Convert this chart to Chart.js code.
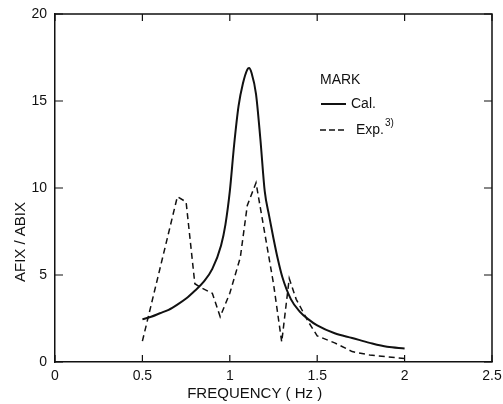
<!DOCTYPE html>
<html><head><meta charset="utf-8">
<script src="https://cdn.jsdelivr.net/npm/chart.js@4/dist/chart.umd.min.js"></script>
<style>html,body{margin:0;padding:0;background:#fff}#wrap{width:503px;height:404px}</style>
</head><body><div id="wrap"><canvas id="c" width="503" height="404"></canvas></div>
<script>
const calFreq   = [0.5, 0.55, 0.6, 0.65, 0.7, 0.75, 0.8, 0.85, 0.9, 0.95, 0.975, 1.0, 1.025, 1.05, 1.075, 1.1, 1.11, 1.125, 1.15, 1.175, 1.2, 1.225, 1.25, 1.275, 1.3, 1.35, 1.4, 1.45, 1.5, 1.6, 1.7, 1.8, 1.9, 2.0];
const calValues = [2.45, 2.6, 2.8, 3.0, 3.3, 3.65, 4.1, 4.6, 5.35, 6.7, 7.9, 9.8, 12.5, 14.7, 16.0, 16.8, 16.9, 16.6, 15.4, 12.8, 9.8, 8.4, 7.1, 5.9, 4.9, 3.6, 2.9, 2.45, 2.1, 1.65, 1.38, 1.1, 0.87, 0.78];
const expFreq   = [0.5, 0.7, 0.75, 0.8, 0.83, 0.9, 0.945, 1.0, 1.06, 1.1, 1.15, 1.25, 1.297, 1.34, 1.38, 1.45, 1.5, 1.6, 1.7, 1.8, 1.9, 2.0];
const expValues = [1.2, 9.5, 9.2, 4.5, 4.3, 3.95, 2.6, 3.95, 6.0, 9.0, 10.3, 4.5, 1.15, 4.8, 3.6, 2.3, 1.5, 1.1, 0.6, 0.4, 0.3, 0.2];
const xTicks = [0, 0.5, 1, 1.5, 2, 2.5];
const yTicks = [0, 5, 10, 15, 20];
const xTitle = 'FREQUENCY ( Hz )';
const yTitle = 'AFIX / ABIX';
const legendTitle = 'MARK';
const seriesLabels = ['Cal.', 'Exp.'];
const expSup = '3)';

const FONT = '"Liberation Sans", Arial, sans-serif';
const INK = '#111';

const overlay = {
  id: 'overlay',
  afterDraw(chart) {
    const ctx = chart.ctx, a = chart.chartArea;
    const xs = chart.scales.x, ys = chart.scales.y;
    ctx.save();
    ctx.strokeStyle = INK; ctx.fillStyle = INK;
    ctx.lineWidth = 1.5; ctx.setLineDash([]);
    // top and right frame
    ctx.beginPath();
    ctx.moveTo(a.left, a.top); ctx.lineTo(a.right, a.top); ctx.lineTo(a.right, a.bottom);
    ctx.stroke();
    // inward ticks
    ctx.lineWidth = 1.2;
    ctx.beginPath();
    yTicks.forEach(v => {
      const p = ys.getPixelForValue(v);
      ctx.moveTo(a.left, p); ctx.lineTo(a.left + 8, p);
      ctx.moveTo(a.right, p); ctx.lineTo(a.right - 8, p);
    });
    xTicks.forEach(v => {
      const p = xs.getPixelForValue(v);
      ctx.moveTo(p, a.bottom); ctx.lineTo(p, a.bottom - 7);
      ctx.moveTo(p, a.top); ctx.lineTo(p, a.top + 7);
    });
    ctx.stroke();
    // axis titles
    ctx.font = '15px ' + FONT;
    ctx.textAlign = 'center'; ctx.textBaseline = 'alphabetic';
    ctx.fillText(xTitle, a.left + (a.right - a.left) * 0.457, 398);
    ctx.save();
    ctx.translate(25, (a.top + a.bottom) / 2 + 54);
    ctx.rotate(-Math.PI / 2);
    ctx.fillText(yTitle, 0, 0);
    ctx.restore();
    // legend
    ctx.textAlign = 'left';
    ctx.font = '14px ' + FONT;
    ctx.fillText(legendTitle, 320, 84);
    ctx.lineWidth = 2;
    ctx.beginPath(); ctx.moveTo(321, 104); ctx.lineTo(346, 104); ctx.stroke();
    ctx.fillText(seriesLabels[0], 351, 108);
    ctx.lineWidth = 1.5; ctx.setLineDash([6, 3]);
    ctx.beginPath(); ctx.moveTo(320, 130); ctx.lineTo(346, 130); ctx.stroke();
    ctx.setLineDash([]);
    ctx.fillText(seriesLabels[1], 356, 134);
    const w = ctx.measureText(seriesLabels[1]).width;
    ctx.font = '10px ' + FONT;
    ctx.fillText(expSup, 356 + w + 1, 126);
    ctx.restore();
  }
};

new Chart(document.getElementById('c'), {
  type: 'line',
  data: {
    datasets: [
      {
        label: seriesLabels[0],
        data: calFreq.map((f, i) => ({ x: f, y: calValues[i] })),
        borderColor: INK, borderWidth: 2, pointRadius: 0, fill: false,
        cubicInterpolationMode: 'monotone'
      },
      {
        label: seriesLabels[1],
        data: expFreq.map((f, i) => ({ x: f, y: expValues[i] })),
        borderColor: INK, borderWidth: 1.5, borderDash: [6, 4], pointRadius: 0, fill: false,
        tension: 0
      }
    ]
  },
  options: {
    responsive: false, animation: false, devicePixelRatio: 1,
    layout: { padding: { top: 14, right: 11, left: 0, bottom: 0 } },
    plugins: { legend: { display: false }, tooltip: { enabled: false } },
    scales: {
      x: {
        type: 'linear', min: 0, max: 2.5,
        afterBuildTicks: s => { s.ticks = xTicks.map(v => ({ value: v })); },
        afterFit: s => { s.height = 42; s.paddingLeft = 0; s.paddingRight = 0; },
        ticks: { callback: v => String(v), color: INK, font: { family: FONT, size: 14 }, padding: 6, maxRotation: 0, autoSkip: false },
        grid: { drawOnChartArea: false, drawTicks: false },
        border: { display: true, color: INK, width: 1.5 }
      },
      y: {
        type: 'linear', min: 0, max: 20,
        afterBuildTicks: s => { s.ticks = yTicks.map(v => ({ value: v })); },
        afterFit: s => { s.width = 55; s.paddingTop = 0; s.paddingBottom = 0; },
        ticks: { callback: v => String(v), color: INK, font: { family: FONT, size: 14 }, padding: 8 },
        grid: { drawOnChartArea: false, drawTicks: false },
        border: { display: true, color: INK, width: 1.5 }
      }
    }
  },
  plugins: [overlay]
});
</script>
</body></html>
